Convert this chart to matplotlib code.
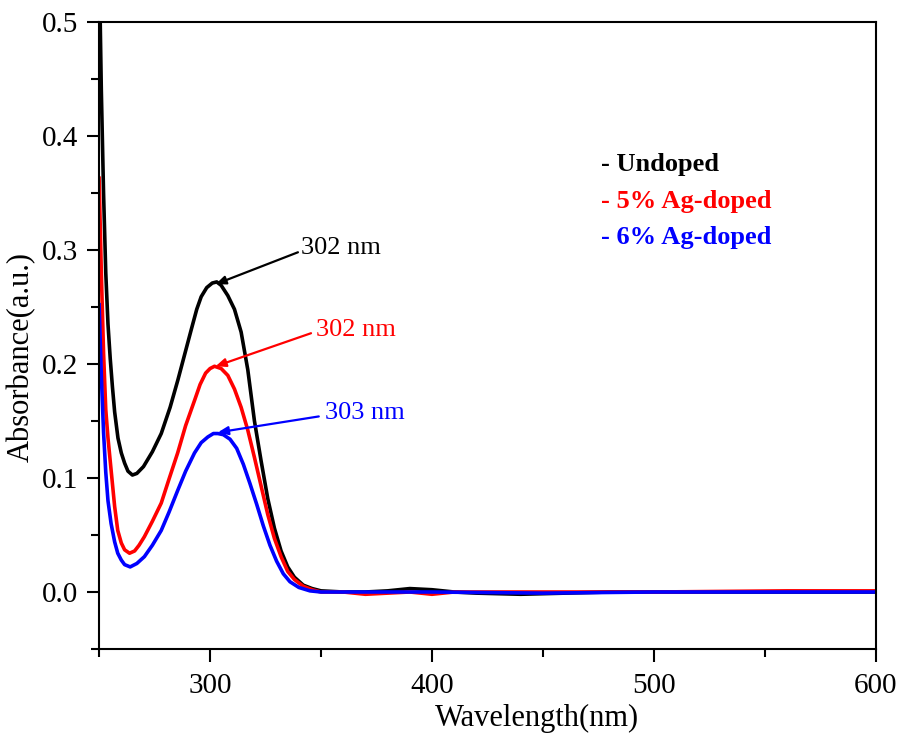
import matplotlib
matplotlib.use("Agg")
import matplotlib.pyplot as plt
from matplotlib.ticker import MultipleLocator, FuncFormatter

plt.rcParams['font.family'] = ['Liberation Serif', 'DejaVu Serif']

# Undoped (black)
wl_undoped = [250, 251, 252, 253, 254, 255, 256, 257, 258.5, 260, 261.5, 263, 265, 267, 270, 274,
              278, 282, 285.5, 288.5, 291.5, 294, 296, 298.5, 301, 303, 305, 308, 311, 314, 317,
              320, 323, 326, 329, 332, 335, 338, 342, 346, 350, 360, 370, 380, 390, 400, 410,
              420, 440, 460, 480, 500, 550, 600]
abs_undoped = [0.56, 0.44, 0.35, 0.28, 0.235, 0.205, 0.18, 0.158, 0.135, 0.122, 0.113, 0.106,
               0.1026, 0.104, 0.110, 0.123, 0.139, 0.162, 0.186, 0.208, 0.230, 0.248, 0.259,
               0.267, 0.271, 0.272, 0.269, 0.260, 0.248, 0.228, 0.195, 0.150, 0.115, 0.082,
               0.056, 0.036, 0.022, 0.013, 0.006, 0.003, 0.001, 0.0, 0.0, 0.001, 0.003, 0.002,
               0.0, -0.001, -0.002, -0.001, 0.0, 0.0, 0.0, 0.0]

# 5% Ag-doped (red)
wl_ag5 = [250, 251, 252, 253, 254, 255.4, 257, 258.4, 260, 261.5, 263.7, 266, 268, 270.4, 274,
          278, 281.5, 285.4, 289, 293, 295.5, 298, 300, 302, 305, 308, 311, 314, 317, 320, 323,
          326, 329, 332, 335, 338, 342, 346, 350, 360, 370, 380, 390, 400, 410, 450, 500, 560,
          600]
abs_ag5 = [0.363, 0.28, 0.21, 0.16, 0.135, 0.107, 0.075, 0.054, 0.043, 0.037, 0.034, 0.036,
           0.041, 0.0485, 0.062, 0.078, 0.099, 0.122, 0.146, 0.168, 0.182, 0.192, 0.196, 0.198,
           0.196, 0.190, 0.178, 0.162, 0.142, 0.118, 0.093, 0.068, 0.047, 0.031, 0.018, 0.011,
           0.005, 0.002, 0.0, 0.0, -0.002, -0.001, 0.0, -0.002, 0.0, 0.0, 0.0, 0.001, 0.001]

# 6% Ag-doped (blue)
wl_ag6 = [250, 251, 252, 253, 254, 255.4, 257, 258.4, 260, 261.5, 264, 267, 270.4, 274, 278,
          281.5, 285.4, 289, 293, 296, 299, 301.5, 303.5, 306, 309, 312, 315, 318, 321, 324,
          327, 330, 333, 336, 340, 345, 350, 400, 450, 500, 550, 600]
abs_ag6 = [0.252, 0.19, 0.14, 0.105, 0.08, 0.060, 0.044, 0.034, 0.028, 0.024, 0.022, 0.025,
           0.031, 0.041, 0.054, 0.070, 0.089, 0.106, 0.122, 0.131, 0.136, 0.139, 0.139, 0.138,
           0.134, 0.126, 0.112, 0.095, 0.077, 0.058, 0.041, 0.027, 0.016, 0.009, 0.004, 0.001,
           0.0, 0.0, -0.001, 0.0, 0.0, 0.0]

legend_labels = ['- Undoped', '- 5% Ag-doped', '- 6% Ag-doped']
peak_labels = ['302 nm', '302 nm', '303 nm']
peak_x = [302, 302, 303]
peak_y = [0.270, 0.198, 0.140]
colors = ['black', '#ff0000', '#0000ff']

fig = plt.figure(figsize=(9.01, 7.33), dpi=100)
ax = fig.add_axes([0.110, 0.1146, 0.862, 0.8554])

ax.plot(wl_undoped, abs_undoped, color=colors[0], lw=2.6)
ax.plot(wl_ag5, abs_ag5, color=colors[1], lw=2.6)
ax.plot(wl_ag6, abs_ag6, color=colors[2], lw=2.6)

ax.set_xlim(250, 600)
ax.set_ylim(-0.05, 0.5)
ax.xaxis.set_major_locator(MultipleLocator(100))
ax.xaxis.set_minor_locator(MultipleLocator(50))
ax.yaxis.set_major_locator(MultipleLocator(0.1))
ax.yaxis.set_minor_locator(MultipleLocator(0.05))
ax.tick_params(which='both', direction='out', top=False, right=False, width=1.5)
ax.tick_params(which='major', length=9, labelsize=21, pad=6)
ax.tick_params(axis='x', which='major', pad=8)
ax.tick_params(which='minor', length=6)
for s in ax.spines.values():
    s.set_linewidth(1.5)
ax.xaxis.set_major_formatter(FuncFormatter(lambda v, p: f"{v:.0f}" if v > 250 else ""))
ax.yaxis.set_major_formatter(FuncFormatter(lambda v, p: f"{v:.1f}"))

ax.set_xlabel('Wavelength(nm)', fontsize=22)
ax.set_ylabel('Absorbance(a.u.)', fontsize=22)
ax.xaxis.set_label_coords(0.564, -0.087)
ax.yaxis.set_label_coords(-0.081, 0.466)

text_pos = [(341, 0.302), (347.7, 0.230), (352, 0.157)]
tail_pos = [(339.6, 0.298), (345.5, 0.227), (349, 0.154)]
for lab, px, py, c, tp, tl in zip(peak_labels, peak_x, peak_y, colors, text_pos, tail_pos):
    ax.annotate('', xy=(px + 0.5, py), xytext=tl,
                arrowprops=dict(arrowstyle='-|>,head_length=0.6,head_width=0.25', color=c, lw=1.6,
                                shrinkA=0, shrinkB=0))
    ax.text(tp[0], tp[1], lab, color=c, fontsize=19, ha='left', va='center')

legend_y = [0.772, 0.7145, 0.6555]
for lab, c, yy in zip(legend_labels, colors, legend_y):
    ax.text(0.6465, yy, lab, color=c, fontsize=19, fontweight='bold',
            transform=ax.transAxes, ha='left', va='center')

fig.savefig('out.png', dpi=100)
